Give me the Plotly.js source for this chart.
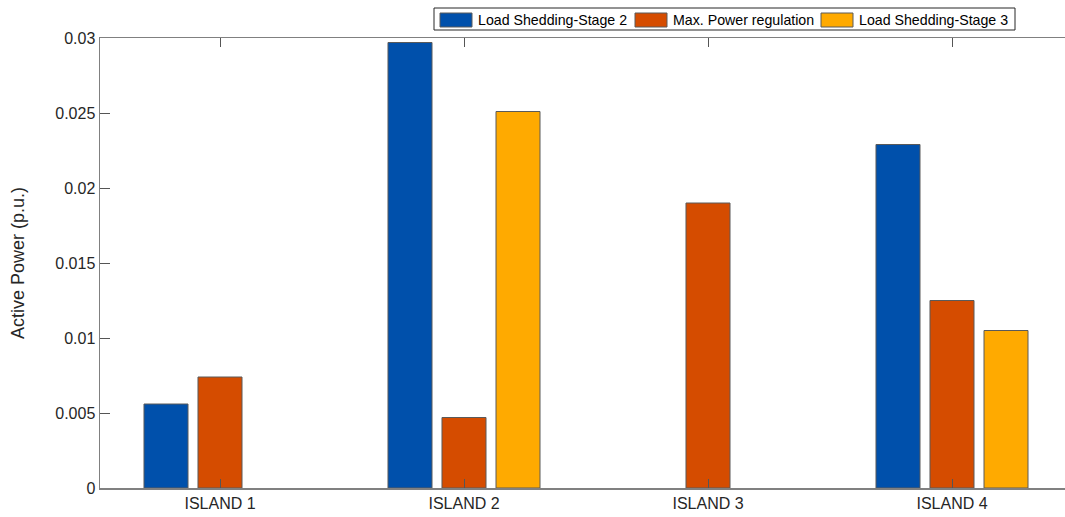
<!DOCTYPE html>
<html>
<head>
<meta charset="utf-8">
<script src="https://cdn.plot.ly/plotly-3.0.1.min.js"></script>
<style>
  html, body { margin: 0; padding: 0; overflow: hidden; background: #fff; width: 1065px; height: 517px; }
  #chart { width: 1080px; height: 517px; }
</style>
</head>
<body>
<div id="chart"></div>
<script>
// Active power per island for each control action
const islands = ['ISLAND 1', 'ISLAND 2', 'ISLAND 3', 'ISLAND 4'];
const loadShedStage2 = [0.0056, 0.0297, 0, 0.0229];
const maxPowerRegulation = [0.0074, 0.0047, 0.0190, 0.0125];
const loadShedStage3 = [0, 0.0251, 0, 0.0105];
const seriesNames = ['Load Shedding-Stage 2', 'Max. Power regulation', 'Load Shedding-Stage 3'];
const seriesColors = ['#0050AB', '#D54C00', '#FFAA00'];
const yTicks = [0, 0.005, 0.01, 0.015, 0.02, 0.025, 0.03];
const yTickText = ['0', '0.005', '0.01', '0.015', '0.02', '0.025', '0.03'];

const seriesValues = [loadShedStage2, maxPowerRegulation, loadShedStage3];
const xIdx = islands.map((_, i) => i);

// Plot area geometry in pixels (used to place the boxed legend)
const W = 1080, H = 517;
const M = { l: 100, r: 4, t: 38, b: 29 };
const pw = W - M.l - M.r, ph = H - M.t - M.b;
const px = x => (x - M.l) / pw;
const py = y => (H - M.b - y) / ph;

const traces = seriesValues.map((vals, i) => ({
  type: 'bar',
  name: seriesNames[i],
  x: xIdx,
  y: vals,
  marker: {
    color: seriesColors[i],
    // empty bars get no outline so nothing is drawn on the baseline
    line: { color: '#5a5a5a', width: vals.map(v => (v > 0 ? 1 : 0)) }
  },
  hoverinfo: 'skip',
  showlegend: false
}));

const font = { family: 'Liberation Sans, Arial, Helvetica, sans-serif', color: '#262626' };

// Boxed horizontal legend: outer frame, colour swatches and labels
const legendBox = { x0: 434, x1: 1015, y0: 8, y1: 30 };
const swatchX = [440, 635, 821];
const swatchW = 32, swatchY0 = 13, swatchY1 = 27;
const labelX = [476, 671, 857];
const labelY = 20;

const shapes = [{
  type: 'rect', xref: 'paper', yref: 'paper',
  x0: px(legendBox.x0), x1: px(legendBox.x1), y0: py(legendBox.y1), y1: py(legendBox.y0),
  line: { color: '#262626', width: 1 }, fillcolor: '#fff', layer: 'above'
}];
const annotations = [];
seriesNames.forEach((name, i) => {
  shapes.push({
    type: 'rect', xref: 'paper', yref: 'paper',
    x0: px(swatchX[i]), x1: px(swatchX[i] + swatchW), y0: py(swatchY1), y1: py(swatchY0),
    line: { color: '#5a5a5a', width: 1 }, fillcolor: seriesColors[i], layer: 'above'
  });
  annotations.push({
    xref: 'paper', yref: 'paper', x: px(labelX[i]), y: py(labelY),
    xanchor: 'left', yanchor: 'middle', showarrow: false,
    text: name, font: Object.assign({}, font, { size: 14.2, color: '#000' })
  });
});

const layout = {
  width: W,
  height: H,
  margin: M,
  paper_bgcolor: '#fff',
  plot_bgcolor: '#fff',
  barmode: 'group',
  bargap: 0.336,
  bargroupgap: 0.185,
  showlegend: false,
  shapes: shapes,
  annotations: annotations,
  xaxis: {
    range: [-0.4918, 3.5082],
    tickmode: 'array',
    tickvals: xIdx,
    ticktext: islands,
    ticks: 'inside', ticklen: 9, tickcolor: '#555',
    showline: true, linecolor: '#808080', linewidth: 1.5,
    mirror: 'allticks',
    showgrid: false, zeroline: false,
    tickfont: Object.assign({}, font, { size: 16 })
  },
  yaxis: {
    range: [0, 0.03],
    tickmode: 'array',
    tickvals: yTicks,
    ticktext: yTickText,
    ticks: 'inside', ticklen: 10, tickcolor: '#555',
    showline: true, linecolor: '#808080', linewidth: 1.5,
    mirror: 'allticks',
    showgrid: false, zeroline: false,
    tickfont: Object.assign({}, font, { size: 16 }),
    title: { text: 'Active Power (p.u.)', font: Object.assign({}, font, { size: 18 }), standoff: 26 }
  }
};

Plotly.newPlot('chart', traces, layout, { displayModeBar: false, staticPlot: true });
</script>
</body>
</html>
